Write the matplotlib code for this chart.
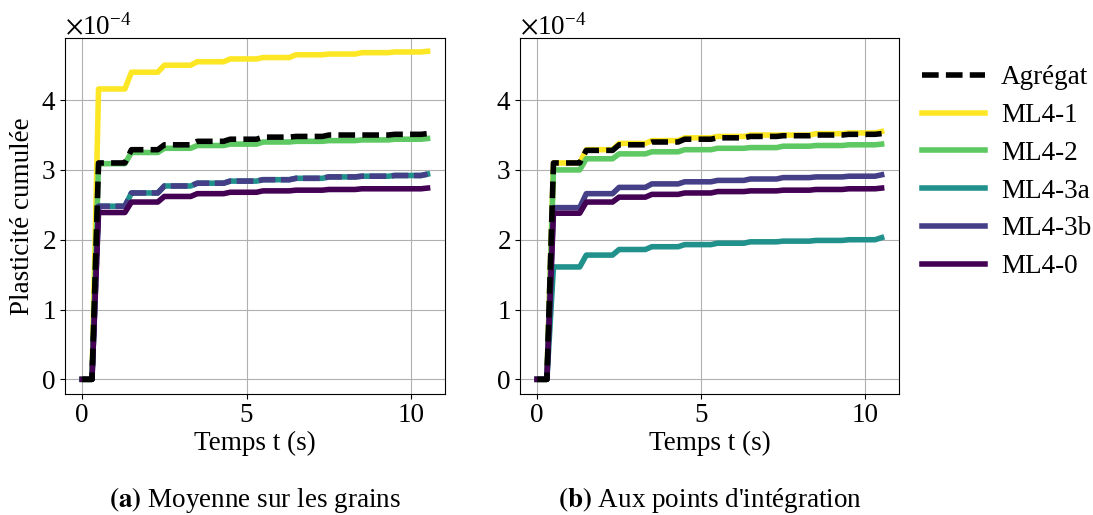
import numpy as np
import matplotlib
matplotlib.use("Agg")
import matplotlib.pyplot as plt

plt.rcParams['font.family'] = ['Liberation Serif', 'DejaVu Serif']
plt.rcParams['mathtext.fontset'] = 'stix'
plt.rcParams['font.size'] = 19

# time instants (s): plateau start/end of each loading cycle
t = [0.0, 0.3, 0.5, 1.3, 1.5, 2.3, 2.5, 3.3, 3.5, 4.3, 4.5, 5.3, 5.5,
     6.3, 6.5, 7.3, 7.5, 8.3, 8.5, 9.3, 9.5, 10.3, 10.5]

labels = ['Agrégat', 'ML4-1', 'ML4-2', 'ML4-3a', 'ML4-3b', 'ML4-0']
colors = ['black', '#fde725', '#5ec962', '#21918c', '#443f87', '#440154']

# plateau values (x1e-4) for each cycle, panel (a)
a_agregat = [3.10, 3.29, 3.36, 3.41, 3.44, 3.47, 3.48, 3.50, 3.50, 3.51, 3.52]
a_ml41 = [4.16, 4.40, 4.50, 4.55, 4.59, 4.61, 4.65, 4.66, 4.68, 4.69, 4.70]
a_ml42 = [3.09, 3.25, 3.31, 3.35, 3.37, 3.40, 3.41, 3.42, 3.43, 3.44, 3.45]
a_ml43a = [2.48, 2.67, 2.77, 2.81, 2.84, 2.86, 2.88, 2.90, 2.91, 2.92, 2.94]
a_ml43b = [2.48, 2.67, 2.77, 2.81, 2.84, 2.86, 2.88, 2.90, 2.91, 2.92, 2.94]
a_ml40 = [2.39, 2.54, 2.62, 2.66, 2.68, 2.70, 2.71, 2.72, 2.73, 2.73, 2.74]

# panel (b)
b_agregat = [3.10, 3.28, 3.36, 3.40, 3.44, 3.46, 3.48, 3.49, 3.50, 3.51, 3.52]
b_ml41 = [3.10, 3.29, 3.38, 3.42, 3.46, 3.48, 3.50, 3.50, 3.52, 3.53, 3.55]
b_ml42 = [3.00, 3.16, 3.23, 3.26, 3.29, 3.31, 3.32, 3.34, 3.35, 3.36, 3.37]
b_ml43a = [1.61, 1.78, 1.86, 1.90, 1.93, 1.95, 1.97, 1.98, 1.99, 2.00, 2.03]
b_ml43b = [2.46, 2.66, 2.75, 2.80, 2.83, 2.85, 2.87, 2.89, 2.90, 2.91, 2.93]
b_ml40 = [2.38, 2.54, 2.61, 2.65, 2.67, 2.69, 2.70, 2.71, 2.72, 2.73, 2.74]


def expand(plateaus):
    vals = [0.0, 0.0]
    for i, v in enumerate(plateaus):
        vals.append(v)
        if i < len(plateaus) - 1:
            vals.append(v)
    return np.array(vals) * 1e-4


fig = plt.figure(figsize=(10.93, 5.15), dpi=100)
ax1 = fig.add_axes([65 / 1093, 121 / 515, 380 / 1093, 356 / 515])
ax2 = fig.add_axes([520 / 1093, 121 / 515, 379 / 1093, 356 / 515], sharey=ax1)

series_a = [a_agregat, a_ml41, a_ml42, a_ml43a, a_ml43b, a_ml40]
series_b = [b_agregat, b_ml41, b_ml42, b_ml43a, b_ml43b, b_ml40]
order = [1, 2, 3, 4, 5, 0]
lw = 4

handles = {}
for ax, series, panel in [(ax1, series_a, 'a'), (ax2, series_b, 'b')]:
    for i in order:
        y = expand(series[i])
        if i == 0:
            ln, = ax.plot(t, y, color=colors[i], lw=lw, ls='--', dashes=(3, 1.3),
                          label=labels[i], zorder=10)
        elif i == 4 and panel == 'a':
            ln, = ax.plot(t, y, color=colors[i], lw=lw, ls='--', dashes=(3, 1.0),
                          label=labels[i], zorder=3 + i)
        else:
            ln, = ax.plot(t, y, color=colors[i], lw=lw, label=labels[i], zorder=3 + i)
        if panel == 'b':
            handles[i] = ln
    ax.grid(True, color='#b0b0b0', lw=0.8)
    ax.set_axisbelow(True)
    ax.set_xlim(-0.52, 11.03)
    ax.set_xticks([0, 5, 10])
    ax.set_xlabel('Temps t (s)', fontsize=19.5, labelpad=2)
    ax.ticklabel_format(axis='y', style='sci', scilimits=(0, 0), useMathText=True)
    ax.tick_params(labelsize=19.5, pad=3)
    ax.yaxis.get_offset_text().set_fontsize(19.5)

ax1.set_ylim(-0.21e-4, 4.89e-4)
ax1.set_yticks(np.array([0, 1, 2, 3, 4]) * 1e-4)
ax2.tick_params(labelleft=True)
ax1.set_ylabel('Plasticité cumulée', fontsize=19.5, labelpad=4)

fig.legend([handles[i] for i in range(6)], labels, loc='upper left',
           bbox_to_anchor=(898 / 1093, 1 - 41 / 515), frameon=False,
           fontsize=19.5, handlelength=2.3, handletextpad=0.6, labelspacing=0.47)

fig.text(255 / 1093, 1 - 500 / 515, r'$\mathbf{(a)}$ Moyenne sur les grains',
         ha='center', va='center', fontsize=19.5)
fig.text(710 / 1093, 1 - 500 / 515, r"$\mathbf{(b)}$ Aux points d'intégration",
         ha='center', va='center', fontsize=19.5)

fig.savefig('out.png', dpi=100)
